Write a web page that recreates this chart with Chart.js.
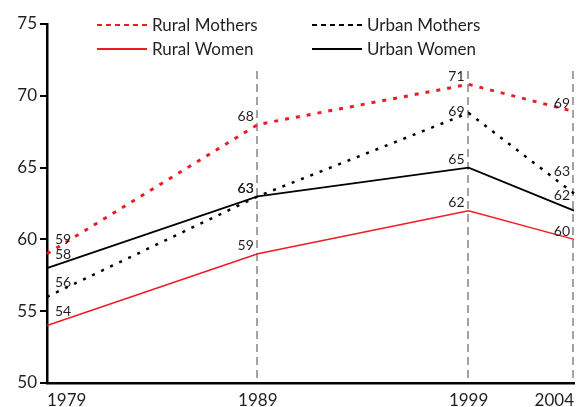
<!DOCTYPE html>
<html>
<head>
<meta charset="utf-8">
<script src="https://cdn.jsdelivr.net/npm/chart.js@4"></script>
<style>
  html, body { margin: 0; padding: 0; background: #fff; }
  #wrap { width: 587px; height: 407px; }
</style>
</head>
<body>
<div id="wrap"><canvas id="lineChart" width="587" height="407"></canvas></div>
<script>
const years = [1979, 1989, 1999, 2004];
const ruralMothers = [59, 68, 70.8, 68.9];
const urbanMothers = [56, 63, 68.8, 63.2];
const ruralWomen = [54, 59, 62, 60];
const urbanWomen = [58, 63, 65, 62];
const yTicks = [50, 55, 60, 65, 70, 75];

const RED = '#ed1c24';
const INK = '#231f20';
const FONT = 'Lato';

function pts(values) {
    return values.map((v, i) => ({ x: years[i], y: v }));
}

// legend drawn by hand, two columns like the original
const legendPlugin = {
    id: 'twoColLegend',
    afterDraw(chart) {
        const c = chart.ctx;
        const items = [
            { ds: 0, x: 97, y: 25 },
            { ds: 1, x: 312, y: 25 },
            { ds: 2, x: 97, y: 49 },
            { ds: 3, x: 312, y: 49 }
        ];
        c.save();
        items.forEach(it => {
            const ds = chart.data.datasets[it.ds];
            c.strokeStyle = ds.borderColor;
            c.lineWidth = 2;
            c.setLineDash(ds.borderDash && ds.borderDash.length ? [5, 4] : []);
            c.beginPath();
            c.moveTo(it.x, it.y);
            c.lineTo(it.x + 50, it.y);
            c.stroke();
            c.setLineDash([]);
            c.fillStyle = INK;
            c.font = '17px ' + FONT;
            c.textBaseline = 'middle';
            c.textAlign = 'left';
            c.fillText(ds.label, it.x + 55, it.y + 1);
        });
        c.restore();
    }
};

// grey dashed verticals at the survey years (not the first)
const yearLines = {
    id: 'yearLines',
    beforeDatasetsDraw(chart) {
        const c = chart.ctx;
        const xs = chart.scales.x, ys = chart.scales.y;
        c.save();
        c.strokeStyle = '#a3a3a3';
        c.lineWidth = 2;
        c.setLineDash([8, 5]);
        years.slice(1).forEach(yr => {
            const px = Math.round(xs.getPixelForValue(yr)) - 1;
            c.beginPath();
            c.moveTo(px, ys.top + 47);
            c.lineTo(px, ys.bottom);
            c.stroke();
        });
        c.restore();
    }
};

// value labels beside each point
const valueLabels = {
    id: 'valueLabels',
    afterDatasetsDraw(chart) {
        const c = chart.ctx;
        c.save();
        c.font = '14px ' + FONT;
        c.fillStyle = INK;
        c.textBaseline = 'middle';
        chart.data.datasets.forEach((ds, di) => {
            const meta = chart.getDatasetMeta(di);
            meta.data.forEach((p, i) => {
                const txt = String(Math.round(ds.data[i].y));
                let dy = i === 0 ? -14 : -8;
                if (di === 1 && i === 3) dy = -22;
                if (di === 3 && i === 3) dy = -15;
                if (di === 1 && i === 2) dy = -2;
                if (i === 0) {
                    c.textAlign = 'left';
                    c.fillText(txt, p.x + 8, p.y + dy);
                } else {
                    c.textAlign = 'right';
                    c.fillText(txt, p.x - 4, p.y + dy);
                }
            });
        });
        c.restore();
    }
};

const ctx = document.getElementById('lineChart').getContext('2d');

let chart = new Chart(ctx, {
    type: 'line',
    data: {
        datasets: [{
            label: 'Rural Mothers',
            data: pts(ruralMothers),
            borderColor: RED,
            borderWidth: 3,
            borderDash: [4, 7]
        }, {
            label: 'Urban Mothers',
            data: pts(urbanMothers),
            borderColor: '#000',
            borderWidth: 2.5,
            borderDash: [3, 7]
        }, {
            label: 'Rural Women',
            data: pts(ruralWomen),
            borderColor: RED,
            borderWidth: 1.5
        }, {
            label: 'Urban Women',
            data: pts(urbanWomen),
            borderColor: '#000',
            borderWidth: 1.8
        }]
    },
    options: {
        responsive: false,
        animation: false,
        clip: false,
        pointRadius: 0,
        tension: 0,
        layout: { padding: { top: 24, right: 13, left: 0, bottom: 0 } },
        plugins: {
            legend: { display: false },
            tooltip: { enabled: false }
        },
        scales: {
            x: {
                type: 'linear',
                min: years[0],
                max: years[years.length - 1],
                afterBuildTicks: s => { s.ticks = years.map(v => ({ value: v })); },
                afterFit: s => { s.height = 24; },
                grid: { display: false, drawTicks: false, tickLength: 0 },
                border: { display: true, color: '#000', width: 2.5 },
                ticks: {
                    align: 'inner',
                    padding: 7,
                    color: INK,
                    font: { family: FONT, size: 17 },
                    callback: v => String(v)
                }
            },
            y: {
                min: 50,
                max: 75,
                afterBuildTicks: s => { s.ticks = yTicks.map(v => ({ value: v })); },
                afterFit: s => { s.width = 47; },
                grid: {
                    drawOnChartArea: false,
                    drawTicks: true,
                    tickLength: 7,
                    color: '#000',
                    lineWidth: 2
                },
                border: { display: true, color: '#000', width: 2.5 },
                ticks: {
                    padding: 3,
                    color: INK,
                    font: { family: FONT, size: 17 }
                }
            }
        }
    },
    plugins: [yearLines, valueLabels, legendPlugin]
});
</script>
</body>
</html>
